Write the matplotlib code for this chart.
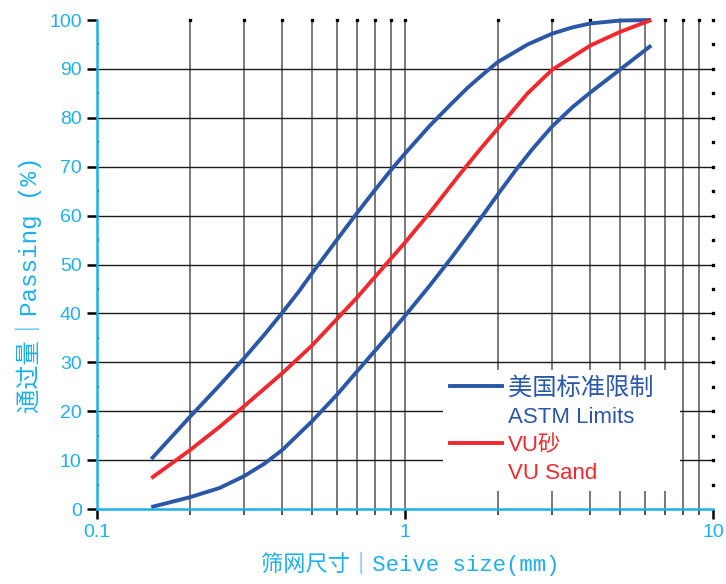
import matplotlib
matplotlib.use("Agg")
import matplotlib.pyplot as plt
from matplotlib.lines import Line2D
from matplotlib.ticker import LogLocator, NullFormatter, MultipleLocator

plt.rcParams['font.family'] = ['Liberation Sans', 'Noto Sans CJK SC']

# sieve size (mm) and % passing
upper_x = [0.15, 0.2, 0.25, 0.3, 0.35, 0.4, 0.45, 0.5, 0.6, 0.7, 0.8, 0.9, 1.0,
           1.2, 1.4, 1.6, 1.8, 2.0, 2.5, 3.0, 3.5, 4.0, 5.0, 6.3]
upper_y = [10.2, 18.8, 25.3, 30.8, 35.7, 40.2, 44.3, 48.3, 55.0, 60.6, 65.3, 69.3, 72.7,
           78.3, 82.6, 86.2, 89.0, 91.4, 95.0, 97.2, 98.5, 99.3, 99.9, 100.0]

sand_x = [0.15, 0.2, 0.25, 0.3, 0.4, 0.5, 0.6, 0.7, 0.8, 0.9, 1.0, 1.2, 1.5, 1.75,
          2.0, 2.5, 3.0, 4.0, 5.0, 6.3]
sand_y = [6.3, 12.0, 16.8, 21.0, 27.8, 33.5, 38.8, 43.3, 47.5, 51.2, 54.5, 60.5, 68.3, 73.5,
          77.8, 85.0, 89.8, 94.8, 97.6, 100.0]

lower_x = [0.15, 0.2, 0.25, 0.3, 0.35, 0.4, 0.5, 0.6, 0.7, 0.8, 0.9, 1.0, 1.2, 1.4,
           1.6, 1.8, 2.0, 2.3, 2.6, 3.0, 3.5, 4.0, 5.0, 6.3]
lower_y = [0.4, 2.4, 4.3, 6.7, 9.3, 12.1, 18.0, 23.3, 28.2, 32.4, 36.1, 39.5, 45.6, 51.0,
           55.9, 60.3, 64.3, 69.5, 73.7, 78.2, 82.2, 85.2, 89.9, 94.8]

x_ticks = [0.1, 1, 10]
x_ticklabels = ['0.1', '1', '10']
y_ticks = list(range(0, 101, 10))

cyan = '#1eb0ea'
blue = '#2b57a7'
red = '#ee2a2e'

fig = plt.figure(figsize=(7.26, 5.84), dpi=100)
ax = fig.add_axes([0.1336, 0.1284, 0.8485, 0.8373])
ax.set_xscale('log')
ax.set_xlim(0.1, 10)
ax.set_ylim(0, 100)

# grid: vertical at every log subdivision, horizontal every 10
vx = [k * 10.0 ** d for d in (-1, 0) for k in range(2, 10)] + [1.0]
ax.vlines(vx, 0, 100, colors='#555555', lw=1.1, zorder=1)
ax.hlines(y_ticks[1:-1], 0.1, 10, colors='#1a1a1a', lw=1.0, zorder=1)

# dots on top and right edges
ax.plot(vx, [1] * len(vx), ls='', marker='s', ms=1.6, color='k',
        transform=ax.get_xaxis_transform(), clip_on=False)
ry = list(range(5, 101, 5))
ax.plot([1] * len(ry), ry, ls='', marker='s', ms=1.6, color='k',
        transform=ax.get_yaxis_transform(), clip_on=False)

ax.plot(upper_x, upper_y, color=blue, lw=2.8, zorder=3, clip_on=False, solid_capstyle='butt')
ax.plot(lower_x, lower_y, color=blue, lw=2.8, zorder=3, clip_on=False, solid_capstyle='butt')
ax.plot(sand_x, sand_y, color=red, lw=2.8, zorder=4, clip_on=False, solid_capstyle='butt')

for s in ('top', 'right'):
    ax.spines[s].set_visible(False)
for s in ('left', 'bottom'):
    ax.spines[s].set_color(cyan)
    ax.spines[s].set_linewidth(1.8)
    ax.spines[s].set_zorder(6)

ax.set_xticks(x_ticks, x_ticklabels)
ax.xaxis.set_minor_locator(LogLocator(base=10, subs=range(2, 10)))
ax.xaxis.set_minor_formatter(NullFormatter())
ax.set_yticks(y_ticks)
ax.yaxis.set_minor_locator(MultipleLocator(5))

ax.tick_params(which='major', direction='out', length=7, width=1.8, color='k',
               labelsize=14, labelcolor=cyan, pad=4)
ax.tick_params(axis='x', which='minor', direction='out', length=4.5, width=1.2, color='#333333')
ax.tick_params(axis='y', which='minor', direction='in', length=1.5, width=1.5, color='k')

lab_fam = ['Liberation Mono', 'Noto Sans CJK SC']
ax.set_xlabel('筛网尺寸｜Seive size(mm)', fontsize=16, color=cyan, family=lab_fam)
ax.xaxis.set_label_coords(0.508, -0.088)
ax.set_ylabel('通过量｜Passing (%)', fontsize=17.5, color=cyan, family=lab_fam)
ax.yaxis.set_label_coords(-0.089, 0.458)

blank = Line2D([], [], color='none')
handles = [Line2D([], [], color=blue, lw=2.8), blank,
           Line2D([], [], color=red, lw=2.8), blank]
labels = ['美国标准限制   ', 'ASTM Limits', 'VU砂', 'VU Sand']
leg = ax.legend(handles, labels, loc='lower right', bbox_to_anchor=(0.947, 0.037),
                frameon=True, fancybox=False, edgecolor='none', facecolor='white',
                framealpha=1, fontsize=16, handlelength=2.35, handletextpad=0.25,
                labelspacing=0.33, borderpad=0.3, borderaxespad=0)
for t, c in zip(leg.get_texts(), [blue, blue, red, red]):
    t.set_color(c)
leg.get_texts()[0].set_fontsize(17.5)
leg.set_zorder(5)

fig.savefig('out.png', dpi=100)
